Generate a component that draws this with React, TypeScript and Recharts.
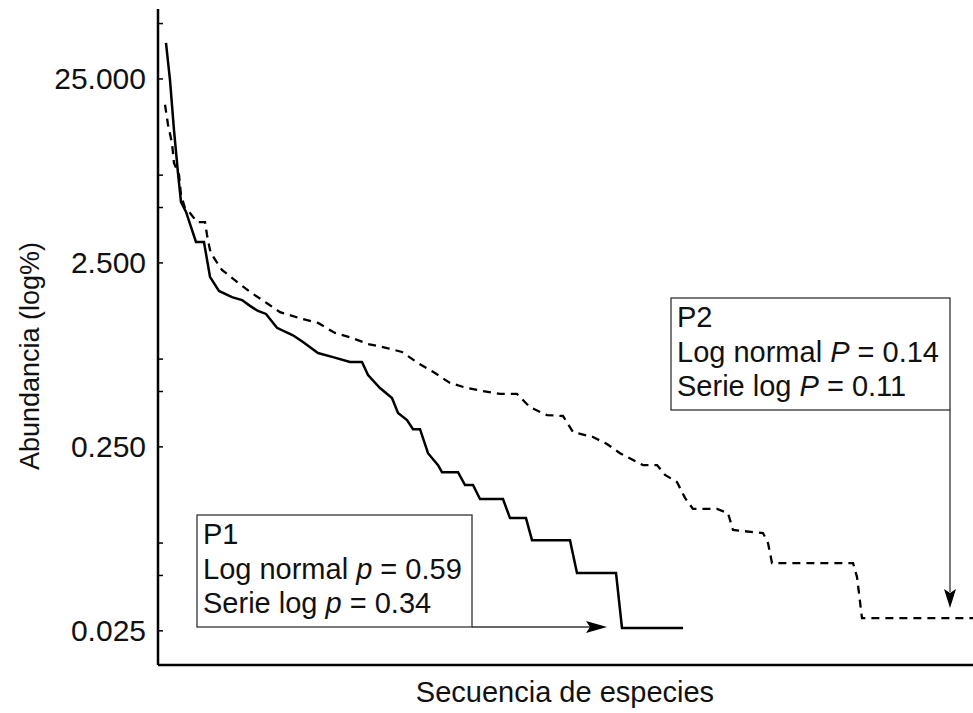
import { LineChart, Line, XAxis, YAxis } from "recharts";

// species rank (0-100 scale of the x axis) and abundance (%)
const P1_RANK = [0.98, 1.47, 1.96, 2.45, 2.82, 3.44, 4.66, 5.64, 6.38, 7.48, 9.08, 10.31, 11.29, 12.27, 13.25, 14.6, 16.56, 17.79, 19.63, 21.47, 23.56, 25.03, 25.77, 27.24, 28.71, 29.45, 30.55, 31.29, 32.15, 33.13, 34.36, 34.85, 36.81, 37.67, 38.65, 39.51, 42.33, 43.19, 45.15, 45.89, 50.55, 51.41, 56.2, 56.93, 64.42];
const P1_ABUND = [39.3, 24.7, 13.2, 7.71, 5.36, 4.73, 3.25, 3.25, 2.1, 1.76, 1.63, 1.57, 1.46, 1.37, 1.32, 1.11, 1.01, 0.929, 0.809, 0.769, 0.723, 0.723, 0.614, 0.522, 0.461, 0.382, 0.35, 0.312, 0.312, 0.231, 0.199, 0.182, 0.182, 0.155, 0.155, 0.13, 0.13, 0.1025, 0.1025, 0.0778, 0.0778, 0.0515, 0.0515, 0.0259, 0.0259];

const P2_RANK = [0.86, 1.23, 1.72, 1.96, 2.58, 2.82, 3.31, 3.93, 4.79, 5.77, 6.01, 6.38, 6.87, 7.85, 9.69, 11.53, 13.37, 14.97, 17.67, 19.63, 21.72, 23.8, 25.77, 28.1, 29.94, 31.9, 33.99, 35.83, 37.91, 39.88, 41.96, 44.05, 45.64, 47.73, 49.69, 50.92, 53.37, 55.09, 56.69, 59.51, 61.23, 62.21, 63.68, 64.66, 65.64, 68.59, 69.94, 70.55, 74.23, 74.85, 75.34, 85.28, 85.77, 86.38, 100];
const P2_ABUND = [18.1, 14.1, 11.2, 8.73, 7.52, 5.85, 4.97, 4.67, 4.17, 4.17, 3.55, 2.94, 2.66, 2.29, 1.97, 1.71, 1.51, 1.35, 1.24, 1.18, 1.04, 0.977, 0.906, 0.861, 0.82, 0.714, 0.63, 0.556, 0.522, 0.503, 0.485, 0.485, 0.411, 0.372, 0.368, 0.301, 0.283, 0.259, 0.231, 0.199, 0.199, 0.176, 0.161, 0.132, 0.115, 0.115, 0.109, 0.0883, 0.085, 0.075, 0.0584, 0.0584, 0.049, 0.0293, 0.0293];

const MAJOR_TICKS = [0.025, 0.25, 2.5, 25];
const MINOR_TICKS = [0.05, 0.075, 0.5, 0.75, 5, 7.5, 50];

const FONT = "'Liberation Sans', Arial, sans-serif";
const AXIS_X = 158;

const p1Data = P1_RANK.map((x, i) => ({ x, y: P1_ABUND[i] }));
const p2Data = P2_RANK.map((x, i) => ({ x, y: P2_ABUND[i] }));

function LogTick(props: any) {
  const { y, payload } = props;
  const major = MAJOR_TICKS.includes(payload.value);
  return (
    <g>
      <line x1={AXIS_X} x2={AXIS_X + 5} y1={y} y2={y} stroke="#000" strokeWidth={1.5} />
      {major && (
        <text x={146} y={y} dy="0.35em" textAnchor="end" fontSize={30} fill="#111" fontFamily={FONT}>
          {payload.value.toFixed(3)}
        </text>
      )}
    </g>
  );
}

function Annotations() {
  return (
    <svg
      width={973}
      height={713}
      style={{ position: "absolute", left: 0, top: 0, pointerEvents: "none" }}
      fontFamily={FONT}
      fill="#111"
    >
      <text x={30} y={356} fontSize={27} textAnchor="middle" dy="0.35em" transform="rotate(-90 30 356)">
        Abundancia (log%)
      </text>
      <text x={565} y={702} fontSize={29} textAnchor="middle">
        Secuencia de especies
      </text>

      {/* P1 */}
      <rect x={197} y={515} width={275} height={112} fill="#fff" stroke="#333" strokeWidth={1.3} />
      <line x1={472} y1={627} x2={590} y2={627} stroke="#333" strokeWidth={1.3} />
      <polygon points="607,627 586,621 590,627 586,633" fill="#000" />
      <text x={203} y={544} fontSize={29}>P1</text>
      <text x={203} y={579} fontSize={29}>
        Log normal <tspan fontStyle="italic">p</tspan> = 0.59
      </text>
      <text x={203} y={613} fontSize={29}>
        Serie log <tspan fontStyle="italic">p</tspan> = 0.34
      </text>

      {/* P2 */}
      <rect x={671} y={298} width={279} height={112} fill="#fff" stroke="#333" strokeWidth={1.3} />
      <line x1={950} y1={410} x2={950} y2={592} stroke="#333" strokeWidth={1.3} />
      <polygon points="950,608 944,589 950,593 956,589" fill="#000" />
      <text x={677} y={327} fontSize={29}>P2</text>
      <text x={677} y={362} fontSize={29}>
        Log normal <tspan fontStyle="italic">P</tspan> = 0.14
      </text>
      <text x={677} y={396} fontSize={29}>
        Serie log <tspan fontStyle="italic">P</tspan> = 0.11
      </text>
    </svg>
  );
}

export default function App() {
  return (
    <div style={{ position: "absolute", left: 0, top: 0, width: 973, height: 713, background: "#fff" }}>
      <LineChart width={973} height={713} margin={{ top: 9, right: 0, bottom: 0, left: 0 }}>
        <XAxis
          type="number"
          dataKey="x"
          domain={[0, 100]}
          allowDataOverflow
          height={48}
          tick={false}
          tickLine={false}
          axisLine={{ stroke: "#000", strokeWidth: 2.5 }}
        />
        <YAxis
          type="number"
          scale="log"
          domain={[0.0163, 60]}
          allowDataOverflow
          width={158}
          ticks={[...MAJOR_TICKS, ...MINOR_TICKS]}
          interval={0}
          tickLine={false}
          tick={<LogTick />}
          axisLine={{ stroke: "#000", strokeWidth: 2.5 }}
        />
        <Line data={p2Data} dataKey="y" type="linear" stroke="#000" strokeWidth={2.3} strokeDasharray="8 6" dot={false} isAnimationActive={false} />
        <Line data={p1Data} dataKey="y" type="linear" stroke="#000" strokeWidth={2.5} dot={false} isAnimationActive={false} />
      </LineChart>
      <Annotations />
    </div>
  );
}
